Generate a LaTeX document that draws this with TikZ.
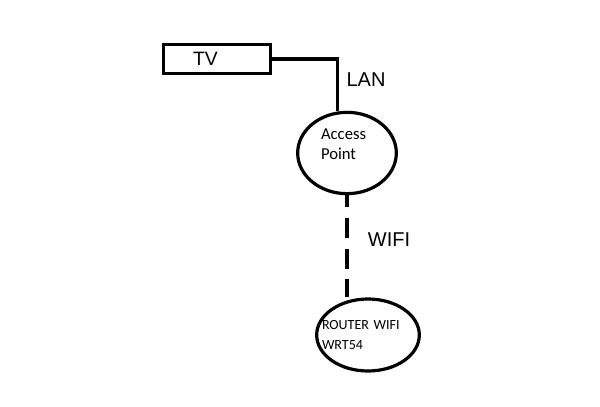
\documentclass[tikz,border=0pt]{standalone}
\usepackage{fontspec}
\setmainfont{Liberation Sans}
\newfontfamily\calfont{Carlito}
\usetikzlibrary{shapes.geometric}
\begin{document}
\begin{tikzpicture}[x=0.75pt,y=-0.75pt,
  wire/.style={line width=2.4pt},
  boxnode/.style={draw,line width=2.4pt,minimum width=80pt,minimum height=22pt,inner xsep=22pt,text width=36pt,align=left,font=\fontsize{14.5}{15}\selectfont},
  ovalnode/.style={draw,ellipse,line width=2.4pt,inner sep=0pt,align=left,font=\calfont\fontsize{12.5}{15}\selectfont},
  lbl/.style={font=\fontsize{15}{16}\selectfont}]
\useasboundingbox (0,0) rectangle (600,407);
\node[boxnode] (tv) at (217,59) {TV};
\node[ovalnode,minimum width=74pt,minimum height=61pt,text width=39pt,text depth=29pt] (ap) at (347,153) {Access\\Point};
\node[ovalnode,minimum width=77pt,minimum height=54pt,text width=69pt,inner xsep=-20pt,font=\calfont\fontsize{10.5}{15}\selectfont] (rt) at (368,335) {ROUTER WIFI\\WRT54};
\draw[wire] (tv.east) -| (ap.103.6);
\draw[wire,dash pattern=on 15pt off 8pt,dash phase=6pt] (ap.south) -- (ap.south |- rt.north);
\node[lbl] (lan) at (366,80) {LAN};
\node[lbl] (wifi) at (389,240) {WIFI};
\end{tikzpicture}
\end{document}
